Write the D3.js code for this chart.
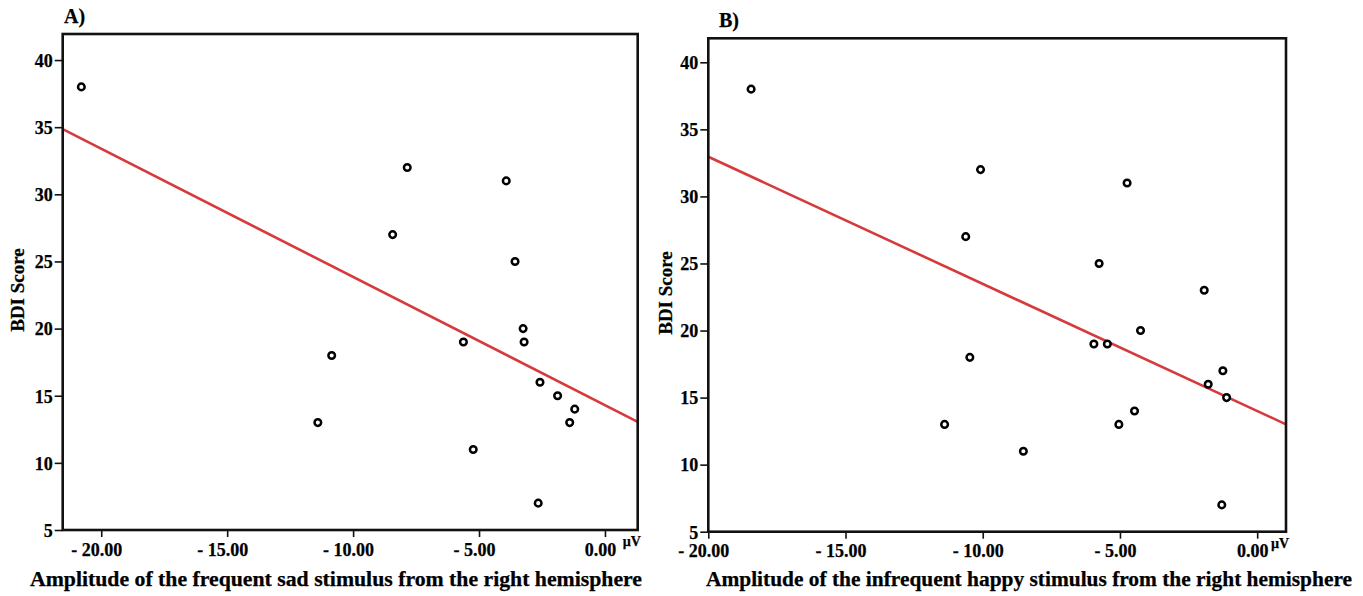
<!DOCTYPE html>
<html>
<head>
<meta charset="utf-8">
<script src="https://cdn.jsdelivr.net/npm/d3@7"></script>
<style>
  body { margin: 0; background: #fff; }
  svg text { font-family: "Liberation Serif", "Times New Roman", serif; font-weight: bold; fill: #000; stroke: #000; stroke-width: 0.25px; }
</style>
</head>
<body>
<div class="chart"></div>
<script>
const yTicks = [5, 10, 15, 20, 25, 30, 35, 40];
const xTicks = [-20, -15, -10, -5, 0];

// panel A: frequent sad stimulus
const sadAmplitude = [-20.79, -7.85, -8.43, -3.92, -3.57, -3.25, -3.21, -5.62, -10.85, -11.40, -5.23, -2.58, -1.88, -1.20, -1.40, -2.65];
const sadBdi = [38, 32, 27, 31, 25, 20, 19, 19, 18, 13, 11, 16, 15, 14, 13, 7];
const sadFit = [14.3, -0.955]; // intercept, slope

// panel B: infrequent happy stimulus
const happyAmplitude = [-18.44, -10.08, -10.62, -10.47, -4.74, -5.76, -1.93, -4.25, -5.95, -5.46, -1.25, -1.785, -1.115, -4.47, -5.04, -11.39, -8.52, -1.29];
const happyBdi = [38, 32, 27, 18, 31, 25, 23, 20, 19, 19, 17, 16, 15, 14, 13, 13, 11, 7];
const happyFit = [14.0, -0.948];

const svg = d3.select('.chart').append('svg')
    .attr('width', 1363)
    .attr('height', 596);

const tickFormat = d => d < 0 ? '- ' + d3.format('.2f')(-d) : d3.format('.2f')(d);

function drawPanel(config, xs, ys, fit) {
  const x = d3.scaleLinear().domain(config.xDomain).range([config.left, config.right]);
  const y = d3.scaleLinear().domain(config.yDomain).range([config.bottom, config.top]);
  const data = xs.map((v, i) => ({x: v, y: ys[i]}));

  const g = svg.append('g');

  // y axis
  const yAxis = g.append('g')
      .attr('transform', `translate(${config.left},0)`)
      .call(d3.axisLeft(y).tickValues(yTicks).tickSize(8).tickPadding(2));
  yAxis.select('.domain').remove();
  yAxis.selectAll('line').attr('stroke', '#111').attr('stroke-width', 1.6);
  yAxis.selectAll('text').attr('font-size', 18).attr('dy', '0.35em');

  // x axis
  const xAxis = g.append('g')
      .attr('transform', `translate(0,${config.bottom})`)
      .call(d3.axisBottom(x).tickValues(xTicks).tickFormat(tickFormat).tickSize(7).tickPadding(6));
  xAxis.select('.domain').remove();
  xAxis.selectAll('line').attr('stroke', '#111').attr('stroke-width', 1.6);
  xAxis.selectAll('text').attr('font-size', 18).attr('dx', -5);

  // unit
  g.append('text')
      .attr('x', config.right - 15)
      .attr('y', config.bottom + 16)
      .attr('font-size', 14)
      .text('\u00b5V');

  // regression line
  const [x0, x1] = config.xDomain;
  g.append('line')
      .attr('x1', x(x0)).attr('y1', y(fit[0] + fit[1] * x0))
      .attr('x2', x(x1)).attr('y2', y(fit[0] + fit[1] * x1))
      .attr('stroke', '#d63a3c')
      .attr('stroke-width', 2.6);

  // points
  g.selectAll('.pt')
    .data(data)
    .enter().append('circle')
      .attr('class', 'pt')
      .attr('cx', d => x(d.x))
      .attr('cy', d => y(d.y))
      .attr('r', 3.3)
      .attr('fill', '#fff')
      .attr('stroke', '#000')
      .attr('stroke-width', 2.5);

  // frame
  g.append('rect')
      .attr('x', config.left)
      .attr('y', config.top)
      .attr('width', config.right - config.left)
      .attr('height', config.bottom - config.top)
      .attr('fill', 'none')
      .attr('stroke', '#111')
      .attr('stroke-width', 2.6);

  g.append('text')
      .attr('x', config.titleX)
      .attr('y', config.top - 11)
      .attr('font-size', 20)
      .text(config.title);

  g.append('text')
      .attr('transform', `translate(${config.yLabelX},${(config.top + config.bottom) / 2 + 8}) rotate(-90)`)
      .attr('text-anchor', 'middle')
      .attr('font-size', 19)
      .text('BDI Score');

  g.append('text')
      .attr('x', config.xLabelX)
      .attr('y', 586)
      .attr('font-size', 20)
      .attr('textLength', config.xLabelLen)
      .attr('lengthAdjust', 'spacingAndGlyphs')
      .text(config.xLabel);
}

drawPanel({
  left: 62.7, top: 34, right: 637.7, bottom: 530,
  xDomain: [-21.53, 1.30], yDomain: [5, 41.94],
  title: 'A)', titleX: 64,
  yLabelX: 24,
  xLabel: 'Amplitude of the frequent sad stimulus from the right hemisphere',
  xLabelX: 30, xLabelLen: 612
}, sadAmplitude, sadBdi, sadFit);

drawPanel({
  left: 708.3, top: 38.3, right: 1286, bottom: 531.7,
  xDomain: [-20, 1.05], yDomain: [5, 41.79],
  title: 'B)', titleX: 719,
  yLabelX: 672,
  xLabel: 'Amplitude of the infrequent happy stimulus from the right hemisphere',
  xLabelX: 706, xLabelLen: 646
}, happyAmplitude, happyBdi, happyFit);
</script>
</body>
</html>
